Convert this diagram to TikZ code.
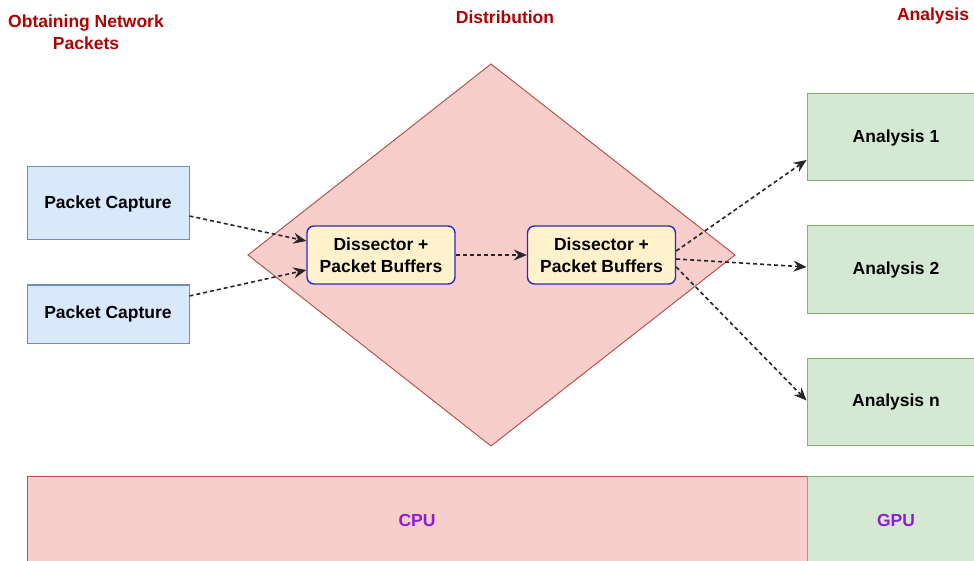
\documentclass[tikz,border=0pt]{standalone}
\usepackage{fontspec}
\setmainfont{Liberation Sans}
\usetikzlibrary{arrows.meta,calc}
\definecolor{bluefill}{HTML}{DAE8FC}
\definecolor{bluedraw}{HTML}{6C8EBF}
\definecolor{redfill}{HTML}{F8CECC}
\definecolor{reddraw}{HTML}{B85450}
\definecolor{greenfill}{HTML}{D5E8D4}
\definecolor{greendraw}{HTML}{82B366}
\definecolor{yellowfill}{HTML}{FFF2CC}
\definecolor{dissdraw}{HTML}{2A2ACC}
\definecolor{titlered}{HTML}{B20000}
\definecolor{purpletext}{HTML}{8A1FD6}
\begin{document}
\begin{tikzpicture}[x=1pt,y=-1pt,
  every node/.style={font=\fontsize{17.5}{22}\selectfont\bfseries, inner sep=0pt, align=center},
  capbox/.style={draw=bluedraw, fill=bluefill, line width=1pt, minimum width=162pt, minimum height=#1},
  anbox/.style={draw=greendraw, fill=greenfill, line width=1pt, minimum width=178pt, minimum height=87pt},
  dissbox/.style={draw=dissdraw, fill=yellowfill, line width=1.4pt, rounded corners=7pt, minimum width=148pt, minimum height=58pt},
  title/.style={text=titlered},
  hwtext/.style={text=purpletext},
  flow/.style={draw=black!85, line width=1.6pt, dash pattern=on 4pt off 3pt, -{Stealth[length=13pt,width=11pt,inset=4.5pt]}}
]
\clip (0,0) rectangle (974,561);
\fill[white] (0,0) rectangle (974,561);

% titles
\node[title] (t1) at (86,32) {Obtaining Network\\Packets};
\node[title] (t2) at (505,17) {Distribution};
\node[title] (t3) at (933,16) {Analysis};

% distribution diamond
\coordinate (dl) at (248,255);
\coordinate (dt) at (491,64);
\coordinate (dr) at (735,255);
\coordinate (db) at (491,446);
\filldraw[fill=redfill, draw=reddraw, line width=1pt] (dl) -- (dt) -- (dr) -- (db) -- cycle;

% capture boxes
\node[capbox=73pt] (pc1) at (108,203.5) {Packet Capture};
\node[capbox=58pt] (pc2) at (108,314) {Packet Capture};

% dissectors
\node[dissbox] (d1) at (381,255) {Dissector +\\Packet Buffers};
\node[dissbox] (d2) at (601.5,255) {Dissector +\\Packet Buffers};

% analysis boxes
\node[anbox] (a1) at (896,137.5) {Analysis 1};
\node[anbox] (a2) at (896,269.5) {Analysis 2};
\node[anbox] (an) at (896,401.5) {Analysis n};

% hardware bars
\node[draw=reddraw, fill=redfill, line width=1pt, minimum width=780pt, minimum height=88pt, hwtext] (cpu) at (417,520) {CPU};
\node[draw=greendraw, fill=greenfill, line width=1pt, minimum width=178pt, minimum height=88pt, hwtext] (gpu) at (896,520) {GPU};

% connectors
\draw[flow] ($(pc1.east)+(0,12.5)$) -- ($(d1.west)+(0,-14)$);
\draw[flow] ($(pc2.east)+(0,-18)$) -- ($(d1.west)+(0,15)$);
\draw[flow] (d1.east) -- (d2.west);
\draw[flow] ($(d2.east)+(0,-4)$) -- ($(a1.west)+(0,22.5)$);
\draw[flow] ($(d2.east)+(0,4)$) -- ($(a2.west)+(0,-2.5)$);
\draw[flow] ($(d2.east)+(0,12)$) -- ($(an.west)+(0,-1)$);
\end{tikzpicture}
\end{document}
